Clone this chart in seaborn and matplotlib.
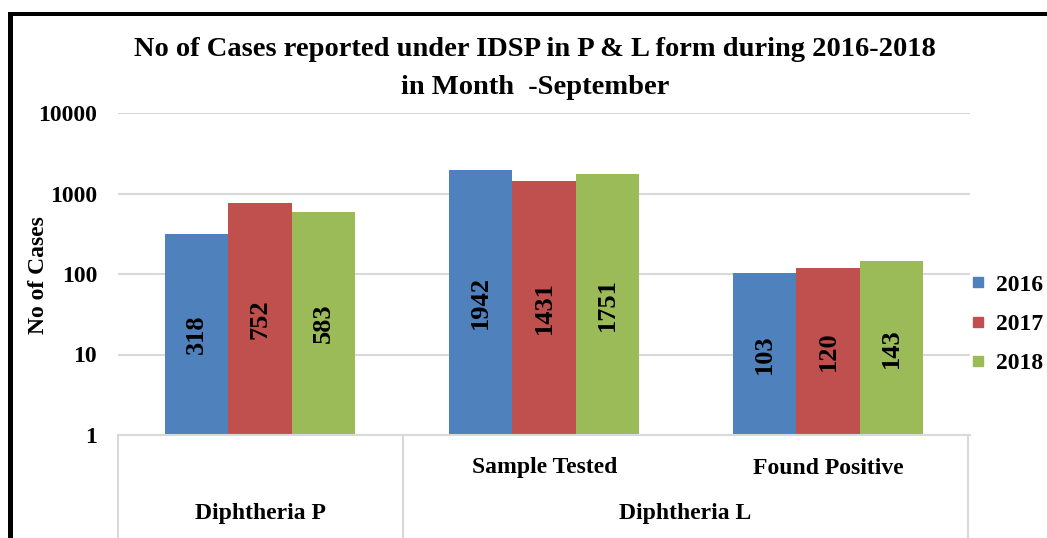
import matplotlib
matplotlib.use("Agg")
import matplotlib.pyplot as plt
import seaborn as sns
import pandas as pd
from matplotlib.lines import Line2D
from matplotlib.patches import Rectangle

# ---- data ----
categories = ["Diphtheria P", "Sample Tested", "Found Positive"]
sub_labels = ["", "Sample Tested", "Found Positive"]
years = ["2016", "2017", "2018"]
values_2016 = [318, 1942, 103]
values_2017 = [752, 1431, 120]
values_2018 = [583, 1751, 143]
groups = ["Diphtheria P", "Diphtheria L"]
ytick_labels = ["1", "10", "100", "1000", "10000"]
colors = ["#4F81BD", "#C0504D", "#9BBB59"]

rows = []
for yr, vals in zip(years, [values_2016, values_2017, values_2018]):
    for c, v in zip(categories, vals):
        rows.append({"category": c, "year": yr, "value": v})
df = pd.DataFrame(rows)

sns.set_theme(style="white")
plt.rcParams["font.family"] = ["Liberation Serif", "DejaVu Serif"]
plt.rcParams["font.weight"] = "bold"
plt.rcParams["text.color"] = "black"
plt.rcParams["ytick.color"] = "black"
plt.rcParams["ytick.labelcolor"] = "black"

W, H = 1047, 538
fig = plt.figure(figsize=(W / 100, H / 100), dpi=100)
x0, x1 = 118, 970
ytop, ybot = 113, 435
ax = fig.add_axes([x0 / W, 1 - ybot / H, (x1 - x0) / W, (ybot - ytop) / H])

sns.barplot(data=df, x="category", y="value", hue="year", order=categories,
            hue_order=years, palette=colors, width=0.672, gap=0,
            saturation=1, ax=ax, legend=False, linewidth=0)
ax.set_yscale("log")
ax.set_ylim(1, 10000)
ax.set_xlim(-0.5, 2.5)
ax.set_yticks([1, 10, 100, 1000, 10000])
ax.set_yticklabels(ytick_labels, fontsize=17, fontweight="bold", color="black")
ax.yaxis.grid(True, color="#D9D9D9", linewidth=1.5)
ax.set_axisbelow(True)
ax.tick_params(axis="y", length=0, pad=15)
ax.set_xticks([])
ax.set_xlabel("")
ax.set_ylabel("")
for s in ["left", "right", "top"]:
    ax.spines[s].set_visible(False)
ax.spines["bottom"].set_color("#D9D9D9")
ax.spines["bottom"].set_linewidth(1.5)

for cont in ax.containers:
    ax.bar_label(cont, labels=[f"{v:.0f}" for v in cont.datavalues],
                 label_type="center", rotation=90, fontsize=19,
                 fontweight="bold", color="black")

def fx(px):
    return px / W

def fy(py):
    return 1 - py / H

# y label
fig.text(fx(38), fy(275), "No of Cases", rotation=90, ha="center", va="center",
         fontsize=17, fontweight="bold", color="black")

# category boxes under axis
for px in [x0, 403, 968]:
    fig.add_artist(Line2D([fx(px), fx(px)], [fy(ybot), 0], color="#D9D9D9", lw=1.5))
fig.text(fx(545), fy(468), sub_labels[1], ha="center", va="center", fontsize=17, fontweight="bold")
fig.text(fx(828), fy(468), sub_labels[2], ha="center", va="center", fontsize=17, fontweight="bold")
fig.text(fx(260), fy(513), groups[0], ha="center", va="center", fontsize=17, fontweight="bold")
fig.text(fx(685), fy(513), groups[1], ha="center", va="center", fontsize=17, fontweight="bold")

# title
fig.text(fx(535), fy(50), "No of Cases reported under IDSP in P & L form during 2016-2018",
         ha="center", va="center", fontsize=20.5, fontweight="bold")
fig.text(fx(535), fy(87), "in Month  -September", ha="center", va="center",
         fontsize=20.5, fontweight="bold")

# legend
handles = [Line2D([], [], marker="s", linestyle="none", markersize=6.5,
                  markerfacecolor=c, markeredgecolor=c) for c in colors]
leg = fig.legend(handles, years, loc="center left", bbox_to_anchor=(fx(972), fy(324)),
                 frameon=False, handlelength=0.5, handletextpad=0.5,
                 borderpad=0, borderaxespad=0, labelspacing=0.75,
                 prop={"weight": "bold", "size": 17})
for t in leg.get_texts():
    t.set_color("black")

# outer frame
fig.add_artist(Rectangle((fx(8), 0), fx(5), fy(12), color="black", lw=0))
fig.add_artist(Rectangle((fx(8), fy(16)), 1, 4 / H, color="black", lw=0))

fig.savefig("out.png", dpi=100)
